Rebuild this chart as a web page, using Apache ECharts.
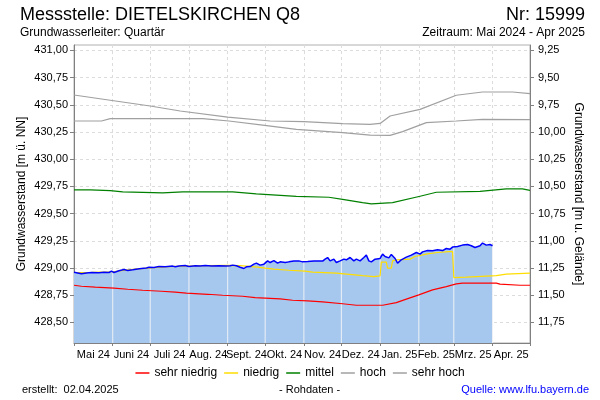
<!DOCTYPE html>
<html><head><meta charset="utf-8">
<script src="https://cdn.jsdelivr.net/npm/echarts@6/dist/echarts.min.js"></script>
<style>html,body{margin:0;padding:0;background:#fff}#c{width:600px;height:400px}</style>
</head><body><div id="c"></div>
<script>
const monthLabels = ['Mai 24','Juni 24','Juli 24','Aug. 24','Sept. 24','Okt. 24','Nov. 24','Dez. 24','Jan. 25','Feb. 25','Mrz. 25','Apr. 25'];
const monthStarts = ['2024-05-01','2024-06-01','2024-07-01','2024-08-01','2024-09-01','2024-10-01','2024-11-01','2024-12-01','2025-01-01','2025-02-01','2025-03-01','2025-04-01','2025-05-01'];
const levelTicks = [428.5,428.75,429.0,429.25,429.5,429.75,430.0,430.25,430.5,430.75,431.0];
const depthTicks = [9.25,9.5,9.75,10.0,10.25,10.5,10.75,11.0,11.25,11.5,11.75];
const groundLevel = 440.25;
const levelMin = 428.31, levelMax = 431.05;

const measuredDates = ['2024-05-01','2024-05-02','2024-05-07','2024-05-11','2024-05-15','2024-05-21','2024-05-25','2024-05-29','2024-05-31','2024-06-02','2024-06-06','2024-06-10','2024-06-13','2024-06-17','2024-06-21','2024-06-24','2024-06-28','2024-06-30','2024-07-04','2024-07-08','2024-07-13','2024-07-19','2024-07-21','2024-07-24','2024-07-29','2024-08-01','2024-08-06','2024-08-10','2024-08-14','2024-08-19','2024-08-25','2024-08-31','2024-09-03','2024-09-05','2024-09-08','2024-09-11','2024-09-14','2024-09-16','2024-09-19','2024-09-22','2024-09-24','2024-09-27','2024-09-28','2024-09-30','2024-10-03','2024-10-05','2024-10-08','2024-10-11','2024-10-13','2024-10-17','2024-10-20','2024-10-24','2024-10-28','2024-10-31','2024-11-04','2024-11-09','2024-11-16','2024-11-18','2024-11-20','2024-11-22','2024-11-25','2024-11-27','2024-11-30','2024-12-03','2024-12-05','2024-12-08','2024-12-11','2024-12-13','2024-12-16','2024-12-19','2024-12-21','2024-12-23','2024-12-25','2024-12-28','2025-01-01','2025-01-03','2025-01-05','2025-01-06','2025-01-08','2025-01-10','2025-01-13','2025-01-15','2025-01-18','2025-01-22','2025-01-26','2025-01-30','2025-02-02','2025-02-04','2025-02-08','2025-02-12','2025-02-16','2025-02-20','2025-02-23','2025-02-26','2025-02-28','2025-03-04','2025-03-08','2025-03-12','2025-03-15','2025-03-18','2025-03-22','2025-03-24','2025-03-27','2025-03-30','2025-04-01'];
const measuredLevels = [428.960,428.956,428.946,428.953,428.958,428.956,428.961,428.958,428.971,428.958,428.974,428.985,428.977,428.983,428.990,428.995,428.999,429.007,429.004,429.013,429.011,429.017,429.011,429.017,429.022,429.013,429.020,429.017,429.022,429.017,429.020,429.017,429.020,429.026,429.020,429.007,428.995,429.011,429.013,429.035,429.044,429.026,429.011,429.035,429.065,429.050,429.068,429.044,429.056,429.050,429.056,429.063,429.065,429.056,429.059,429.063,429.063,429.081,429.096,429.065,429.081,429.050,429.065,429.081,429.075,429.096,429.065,429.081,429.065,429.096,429.118,429.065,429.056,429.081,429.087,429.127,429.105,429.118,429.093,429.124,429.087,429.044,429.075,429.100,429.118,429.142,429.127,429.148,429.160,429.158,429.167,429.160,429.179,429.173,429.192,429.197,429.210,429.216,429.204,429.188,429.204,429.229,429.210,429.216,429.204];

const sehrNiedrigDates = ['2024-05-01','2024-05-07','2024-05-18','2024-06-02','2024-06-13','2024-06-25','2024-07-10','2024-07-21','2024-07-30','2024-08-16','2024-08-28','2024-09-13','2024-09-23','2024-10-13','2024-10-23','2024-11-04','2024-11-16','2024-12-02','2024-12-13','2025-01-03','2025-01-14','2025-01-22','2025-02-01','2025-02-12','2025-02-23','2025-03-03','2025-03-08','2025-04-04','2025-04-07','2025-04-23','2025-05-01'];
const sehrNiedrigLevels = [428.841,428.832,428.823,428.814,428.804,428.795,428.786,428.777,428.768,428.758,428.749,428.740,428.728,428.716,428.703,428.697,428.689,428.671,428.657,428.657,428.681,428.713,428.752,428.798,428.828,428.853,428.860,428.860,428.851,428.841,428.841];

const niedrigDates = ['2024-05-01','2024-05-15','2024-06-01','2024-06-15','2024-07-01','2024-07-15','2024-08-01','2024-08-15','2024-09-01','2024-09-11','2024-09-25','2024-10-01','2024-10-08','2024-10-20','2024-11-02','2024-11-08','2024-11-27','2024-12-18','2024-12-27','2025-01-01','2025-01-02','2025-01-06','2025-01-07','2025-01-10','2025-01-11','2025-01-14','2025-01-25','2025-01-29','2025-02-08','2025-02-16','2025-02-28','2025-03-01','2025-03-11','2025-04-04','2025-04-12','2025-05-01'];
const niedrigLevels = [428.958,428.960,428.965,428.985,429.000,429.012,429.018,429.022,429.024,429.022,429.007,428.998,428.989,428.979,428.970,428.961,428.952,428.930,428.921,428.928,429.054,429.054,428.998,428.998,429.065,429.075,429.081,429.105,429.130,429.142,429.152,428.912,428.915,428.930,428.943,428.952];

const mittelDates = ['2024-05-01','2024-05-14','2024-05-30','2024-06-09','2024-07-11','2024-07-27','2024-09-05','2024-09-24','2024-10-26','2024-11-21','2024-12-02','2024-12-18','2024-12-25','2025-01-11','2025-02-02','2025-02-15','2025-03-22','2025-04-12','2025-04-25','2025-05-01'];
const mittelLevels = [429.718,429.718,429.711,429.699,429.690,429.699,429.699,429.681,429.659,429.650,429.631,429.601,429.589,429.601,429.659,429.696,429.705,429.727,429.727,429.714];

const hochDates = ['2024-05-01','2024-05-23','2024-05-30','2024-08-12','2024-09-02','2024-09-29','2024-10-26','2024-12-02','2024-12-24','2025-01-09','2025-01-19','2025-02-07','2025-03-03','2025-03-24','2025-05-01'];
const hochLevels = [430.351,430.351,430.373,430.373,430.351,430.314,430.274,430.244,430.221,430.219,430.253,430.336,430.351,430.366,430.363];

const sehrHochDates = ['2024-05-01','2024-05-30','2024-07-01','2024-07-25','2024-09-01','2024-10-05','2024-11-01','2024-12-02','2024-12-24','2025-01-01','2025-01-09','2025-02-02','2025-03-03','2025-03-24','2025-04-17','2025-05-01'];
const sehrHochLevels = [430.590,430.542,430.489,430.443,430.387,430.351,430.345,430.327,430.320,430.329,430.397,430.458,430.588,430.618,430.618,430.603];

const FONT = 'Liberation Sans, Arial, sans-serif';
const t = s => { const p = s.split('-').map(Number); return Date.UTC(p[0], p[1]-1, p[2]); };
const zip = (d, v) => d.map((x, i) => [t(x), v[i]]);
const startTs = monthStarts.map(t);
const midTs = startTs.slice(0, -1).map((s, i) => (s + startTs[i+1]) / 2);
const fmt = v => (Math.round(v * 100) / 100).toFixed(2).replace('.', ',');
const measured = zip(measuredDates, measuredLevels);
// month separators inside the filled area: height = nearest measured value
const separators = startTs.slice(1, -1).map(ts => {
  let best = measured[0];
  measured.forEach(p => { if (Math.abs(p[0]-ts) < Math.abs(best[0]-ts)) best = p; });
  return [ts, best[1]];
}).filter(p => p[0] <= measured[measured.length-1][0] + 86400000);

const chart = echarts.init(document.getElementById('c'), null, {renderer: 'canvas'});
const refLine = (name, color, dates, vals) => ({
  name, type: 'line', data: zip(dates, vals), showSymbol: false, symbol: 'none',
  lineStyle: {color, width: 1.2}, itemStyle: {color}, z: 5
});
const txt = (size, color) => ({fontSize: size, fontWeight: 'normal', color: color || '#000', fontFamily: FONT});
chart.setOption({
  animation: false,
  textStyle: {fontFamily: FONT},
  title: [
    {text: 'Messstelle: DIETELSKIRCHEN Q8', left: 20, top: 6, padding: 0, textStyle: txt(18)},
    {text: 'Nr: 15999', right: 15, top: 6, padding: 0, textStyle: txt(18)},
    {text: 'Grundwasserleiter: Quartär', left: 20, top: 27, padding: 0, textStyle: txt(12)},
    {text: 'Zeitraum: Mai 2024 - Apr 2025', right: 15, top: 27, padding: 0, textStyle: txt(12)},
    {text: 'erstellt:  02.04.2025', left: 22, top: 384, padding: 0, textStyle: txt(11)},
    {text: '- Rohdaten -', left: 279, top: 384, padding: 0, textStyle: txt(11)},
    {text: 'Quelle: www.lfu.bayern.de', right: 11, top: 384, padding: 0, textStyle: txt(11, '#0000ff')}
  ],
  legend: {
    data: ['sehr niedrig','niedrig','mittel','hoch','sehr hoch'],
    left: 'center', top: 362, icon: 'rect', itemWidth: 14, itemHeight: 1.5, itemGap: 7,
    textStyle: {fontSize: 12, color: '#000', fontFamily: FONT}
  },
  grid: {left: 74, right: 70, top: 45, bottom: 57, show: true, borderColor: '#b0b0b0', borderWidth: 1},
  xAxis: {
    type: 'value', min: startTs[0], max: startTs[startTs.length-1],
    axisLine: {show: true, lineStyle: {color: '#808080'}},
    axisTick: {show: true, customValues: startTs, length: 3, lineStyle: {color: '#808080'}},
    axisLabel: {customValues: midTs, margin: 6, fontSize: 11, color: '#000', fontFamily: FONT, hideOverlap: false,
      formatter: v => { let i = 0; while (i < startTs.length-2 && v >= startTs[i+1]) i++; return monthLabels[i]; }},
    splitLine: {show: true, lineStyle: {color: '#dcdcdc', type: [3, 3]}}
  },
  yAxis: [
    {type: 'value', position: 'left', min: levelMin, max: levelMax,
      axisLine: {show: true, lineStyle: {color: '#808080'}},
      axisTick: {show: true, customValues: levelTicks, length: 4, lineStyle: {color: '#808080'}},
      axisLabel: {customValues: levelTicks, formatter: fmt, fontSize: 11, color: '#000', margin: 6, fontFamily: FONT},
      splitLine: {show: true, lineStyle: {color: '#dcdcdc', type: [3, 3]}},
      name: 'Grundwasserstand [m ü. NN]', nameLocation: 'middle', nameGap: 46, nameMoveOverlap: false,
      nameTextStyle: {fontSize: 12, color: '#000', fontFamily: FONT}},
    {type: 'value', position: 'right', inverse: true, min: groundLevel - levelMax, max: groundLevel - levelMin,
      axisLine: {show: true, lineStyle: {color: '#808080'}},
      axisTick: {show: true, customValues: depthTicks, length: 4, lineStyle: {color: '#808080'}},
      axisLabel: {customValues: depthTicks, formatter: fmt, fontSize: 11, color: '#000', margin: 8, fontFamily: FONT},
      splitLine: {show: false},
      name: 'Grundwasserstand [m u. Gelände]', nameLocation: 'middle', nameGap: 42, nameRotate: -90, nameMoveOverlap: false,
      nameTextStyle: {fontSize: 12, color: '#000', fontFamily: FONT}}
  ],
  series: [
    {name: 'fill', type: 'line', data: measured, showSymbol: false, symbol: 'none',
      lineStyle: {width: 0, color: '#a6c8ef'}, areaStyle: {color: '#a6c8ef', opacity: 1, origin: 'start'}, z: 2},
    {name: 'sep', type: 'bar', data: separators, barWidth: 1, itemStyle: {color: '#eef1f5'}, z: 3, clip: true},
    {name: 'Messwerte', type: 'line', data: measured, showSymbol: false, symbol: 'none',
      lineStyle: {color: '#0000ff', width: 1.5}, z: 6},
    refLine('sehr niedrig', '#ff0000', sehrNiedrigDates, sehrNiedrigLevels),
    refLine('niedrig', '#ffdd00', niedrigDates, niedrigLevels),
    refLine('mittel', '#008000', mittelDates, mittelLevels),
    refLine('hoch', '#a0a0a0', hochDates, hochLevels),
    refLine('sehr hoch', '#a0a0a0', sehrHochDates, sehrHochLevels)
  ]
});
</script></body></html>
